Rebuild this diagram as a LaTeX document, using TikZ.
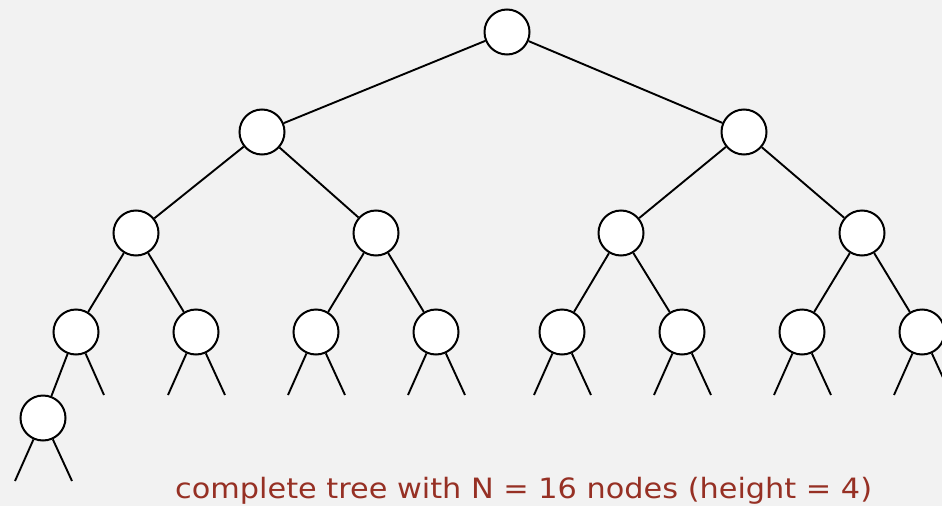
\documentclass[tikz,border=0pt]{standalone}
\usepackage{fontspec}
\newfontfamily\capfont{DejaVu Sans}
\definecolor{bg}{RGB}{242,242,242}
\definecolor{captxt}{RGB}{150,48,36}
\begin{document}
\begin{tikzpicture}[x=1pt,y=-1pt,
  tnode/.style={circle,draw=black,fill=white,line width=2pt,minimum size=45pt,inner sep=0pt},
  edge/.style={draw=black,line width=1.9pt}]
\fill[bg] (0,0) rectangle (942,506);
\useasboundingbox (0,0) rectangle (942,506);
% nodes
\node[tnode] (r) at (507,32) {};
\node[tnode] (a) at (262,132) {};
\node[tnode] (b) at (744,132) {};
\node[tnode] (aa) at (136,233) {};
\node[tnode] (ab) at (376,233) {};
\node[tnode] (ba) at (621,233) {};
\node[tnode] (bb) at (862,233) {};
\node[tnode] (c1) at (76,332) {};
\node[tnode] (c2) at (196,332) {};
\node[tnode] (c3) at (316,332) {};
\node[tnode] (c4) at (436,332) {};
\node[tnode] (c5) at (562,332) {};
\node[tnode] (c6) at (682,332) {};
\node[tnode] (c7) at (802,332) {};
\node[tnode] (c8) at (922,332) {};
\node[tnode] (d1) at (43,418) {};
% edges
\draw[edge] (r) -- (a);
\draw[edge] (r) -- (b);
\draw[edge] (a) -- (aa);
\draw[edge] (a) -- (ab);
\draw[edge] (b) -- (ba);
\draw[edge] (b) -- (bb);
\draw[edge] (aa) -- (c1);
\draw[edge] (aa) -- (c2);
\draw[edge] (ab) -- (c3);
\draw[edge] (ab) -- (c4);
\draw[edge] (ba) -- (c5);
\draw[edge] (ba) -- (c6);
\draw[edge] (bb) -- (c7);
\draw[edge] (bb) -- (c8);
\draw[edge] (c1) -- (d1);
% stubs
\coordinate (s1r) at (104,395);
\draw[edge] (c1) -- (s1r);
\foreach \n/\x in {c2/196,c3/316,c4/436,c5/562,c6/682,c7/802,c8/922}{
  \coordinate (\n l) at ({\x-28},395);
  \coordinate (\n r) at ({\x+29},395);
  \draw[edge] (\n) -- (\n l);
  \draw[edge] (\n) -- (\n r);
}
\coordinate (d1l) at (15,481);
\coordinate (d1r) at (72,481);
\draw[edge] (d1) -- (d1l);
\draw[edge] (d1) -- (d1r);
% caption
\node[anchor=base west,inner sep=0pt,text=captxt,font=\capfont\fontsize{28}{32}\selectfont] (cap) at (175,498) {\scalebox{1.083}[1]{complete tree with N = 16 nodes (height = 4)}};
\end{tikzpicture}
\end{document}
